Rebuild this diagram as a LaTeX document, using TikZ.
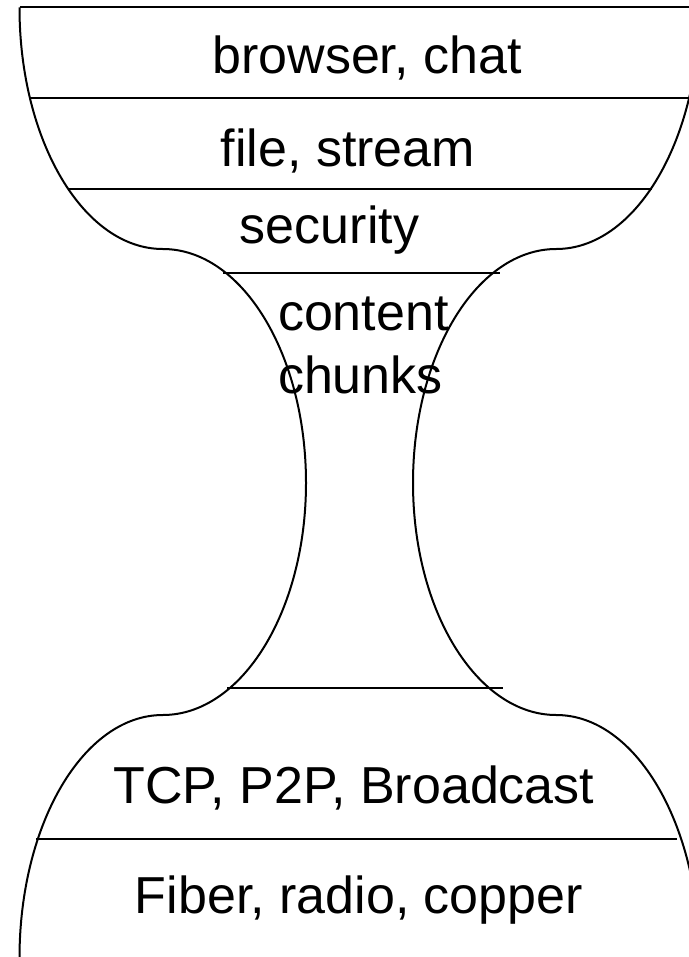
\documentclass[tikz,border=0pt]{standalone}
\usepackage{fontspec}
\setmainfont{Liberation Sans}
\usepackage{tikz}
\usetikzlibrary{positioning}

\begin{document}
\begin{tikzpicture}[x=0.5pt,y=-0.5pt,line width=1pt,
    layer/.style={inner sep=0pt,anchor=base,font=\fontsize{26}{31.5}\selectfont}]
    \useasboundingbox (0,0) rectangle (689,957);
    \clip (0,0) rectangle (689,957);
    % hourglass outline, left half
    \draw (19.5,7.5)
        arc[start angle=180,end angle=90,x radius=143.25,y radius=241.5]
        arc[start angle=270,end angle=360,x radius=143.25,y radius=234]
        arc[start angle=0,end angle=90,x radius=143.25,y radius=232]
        arc[start angle=270,end angle=180,x radius=143.25,y radius=243];
    % hourglass outline, right half
    \draw (699.5,7.5)
        arc[start angle=0,end angle=90,x radius=143.25,y radius=241.5]
        arc[start angle=270,end angle=180,x radius=143.25,y radius=234]
        arc[start angle=180,end angle=90,x radius=143.25,y radius=232]
        arc[start angle=270,end angle=360,x radius=143.25,y radius=243];
    % layer boundaries
    \foreach \y/\xa/\xb in {7.5/19.5/699.5, 98.5/30/689, 189/68/652,
                            272.7/223/500, 688.3/227/503, 839.3/36/677}
        \draw (\xa,\y) -- (\xb,\y);
    % layer labels
    \node[layer] (app) at (367,74) {browser, chat};
    \node[layer] (file) at (348,167) {file, stream};
    \node[layer] (sec) at (329.5,243) {security};
    \node[layer,anchor=base west] (content) at (277,330) {content};
    \node[layer,anchor=base west] (chunks) at (277,393) {chunks};
    \node[layer] (trans) at (354,803) {TCP, P2P, Broadcast};
    \node[layer] (phys) at (359,913) {Fiber, radio, copper};
\end{tikzpicture}
\end{document}
